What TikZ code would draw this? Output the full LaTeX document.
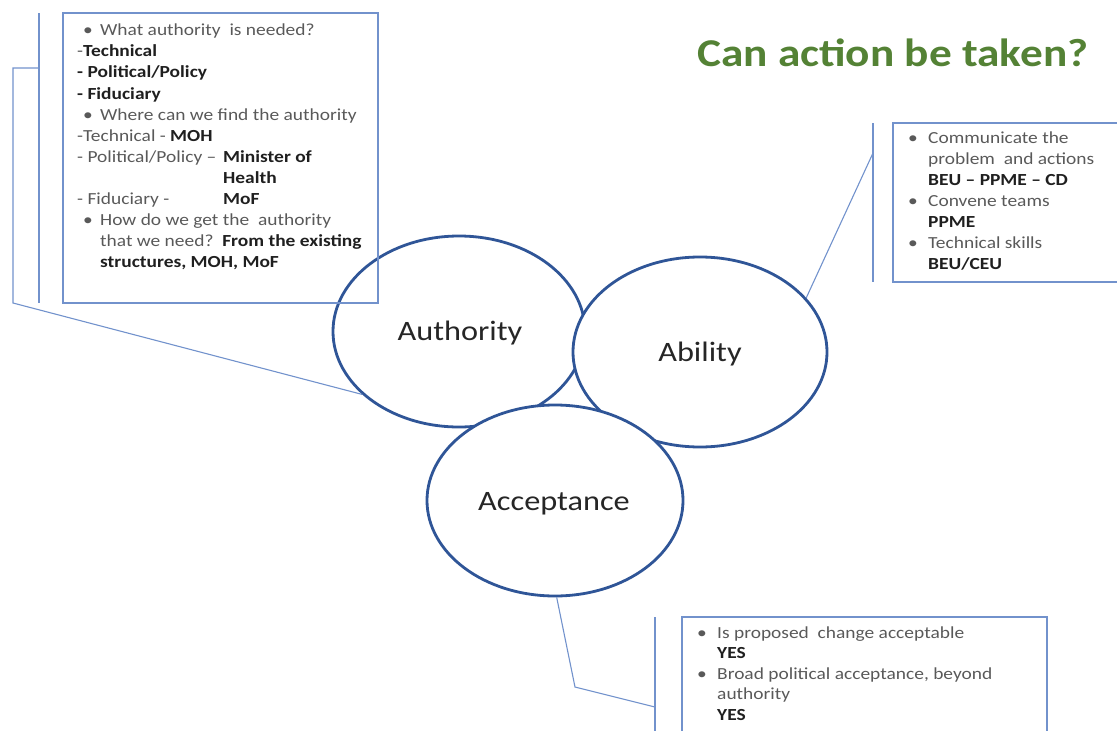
\documentclass[tikz,border=0pt]{standalone}
\usepackage{fontspec}
\setmainfont{Carlito}[FakeStretch=1.15]
\usetikzlibrary{shapes.geometric}
\definecolor{ellblue}{HTML}{2F5597}
\definecolor{thinblue}{HTML}{7292CC}
\definecolor{titlegreen}{HTML}{548235}
\definecolor{bodygray}{HTML}{595959}
\definecolor{boldink}{HTML}{1F1F1F}
\definecolor{lblink}{HTML}{262626}
\newcommand\bt[1]{{\bfseries\color{boldink}#1}}
\tikzset{
  circ/.style={ellipse, draw=ellblue, line width=2.8pt, fill=white, inner sep=0pt},
  callbox/.style={rectangle, draw=thinblue, line width=1.1pt, inner sep=0pt},
  leader/.style={draw=thinblue, line width=1.1pt},
  body/.style={anchor=base west, inner sep=0pt, font=\fontsize{16.9}{20}\selectfont, text=bodygray},
  lbl/.style={anchor=base, inner sep=0pt, font=\fontsize{28.1}{32}\selectfont, text=lblink},
  ttl/.style={anchor=base west, inner sep=0pt, font=\bfseries\fontsize{39.4}{44}\selectfont, text=titlegreen}
}
\begin{document}
\begin{tikzpicture}[x=1pt,y=-1pt]
\useasboundingbox (0,0) rectangle (1117,731);
% ellipses
\node[circ, minimum width=252pt, minimum height=191pt] (auth) at (459,331.5) {};
\node[circ, minimum width=254pt, minimum height=190pt] (abil) at (700,352) {};
\node[circ, minimum width=256pt, minimum height=191pt] (acc) at (555,500.5) {};
\node[lbl] (lauth) at (460,340) {Authority};
\node[lbl] (labil) at (700,361.5) {Ability};
\node[lbl] (lacc) at (554,510) {Acceptance};
% title
\node[ttl] (title) at (697,66) {Can action be taken?};
% left callout
\node[callbox, minimum width=315pt, minimum height=290pt] (lbox) at (220.5,158) {};
\coordinate (lbt) at (39,13); \coordinate (lbb) at (39,303);
\draw[leader] (lbt) -- (lbb);
\coordinate (la) at (39,68); \coordinate (lb) at (13,68); \coordinate (lc) at (13,303);
\draw[leader] (la) -- (lb) -- (lc) -- (auth.213.6);
% right callout
\node[callbox, minimum width=240pt, minimum height=159pt] (rbox) at (1013,202.5) {};
\coordinate (rbt) at (873,123); \coordinate (rbb) at (873,282);
\draw[leader] (rbt) -- (rbb);
\coordinate (ra) at (873,153);
\draw[leader] (ra) -- (abil.27.6);
% bottom callout
\node[callbox, minimum width=365pt, minimum height=140pt] (bbox) at (864.5,687) {};
\coordinate (bbt) at (655,617); \coordinate (bbb) at (655,745);
\draw[leader] (bbt) -- (bbb);
\coordinate (ba) at (655,707); \coordinate (bb) at (575,687);
\draw[leader] (ba) -- (bb) -- (acc.271);
% left box text
\node[body] (l1b) at (83,35.7) {•};
\node[body] (l1) at (100,35.7) {What authority\ \ is needed?};
\node[body] (l2) at (77,56.8) {-\bt{Technical}};
\node[body] (l3) at (77,77.9) {\bt{- Political/Policy}};
\node[body] (l4) at (77,99) {\bt{- Fiduciary}};
\node[body] (l5b) at (83,120.1) {•};
\node[body] (l5) at (100,120.1) {Where can we find the authority};
\node[body] (l6) at (77,141.2) {-Technical - \bt{MOH}};
\node[body] (l7) at (77,162.3) {- Political/Policy –};
\node[body] (l7r) at (223,162.3) {\bt{Minister of}};
\node[body] (l8r) at (223,183.4) {\bt{Health}};
\node[body] (l9) at (77,204.5) {- Fiduciary -};
\node[body] (l9r) at (223,204.5) {\bt{MoF}};
\node[body] (l10b) at (83,225.6) {•};
\node[body] (l10) at (100,225.6) {How do we get the\ \ authority};
\node[body] (l11) at (100,246.7) {that we need?\ \ \bt{From the existing}};
\node[body] (l12) at (100,267.8) {\bt{structures, MOH, MoF}};
% right box text
\node[body] (r1b) at (908,143) {•};
\node[body] (r1) at (928,143) {Communicate the};
\node[body] (r2) at (928,164) {problem\ \ and actions};
\node[body] (r3) at (928,185) {\bt{BEU – PPME – CD}};
\node[body] (r4b) at (908,206.5) {•};
\node[body] (r4) at (928,206.5) {Convene teams};
\node[body] (r5) at (928,227.5) {\bt{PPME}};
\node[body] (r6b) at (908,248) {•};
\node[body] (r6) at (928,248) {Technical skills};
\node[body] (r7) at (928,269) {\bt{BEU/CEU}};
% bottom box text
\node[body] (b1b) at (697,638) {•};
\node[body] (b1) at (717,638) {Is proposed\ \ change acceptable};
\node[body] (b2) at (717,658.5) {\bt{YES}};
\node[body] (b3b) at (697,679) {•};
\node[body] (b3) at (717,679) {Broad political acceptance, beyond};
\node[body] (b4) at (717,699.5) {authority};
\node[body] (b5) at (717,720) {\bt{YES}};
\end{tikzpicture}
\end{document}
